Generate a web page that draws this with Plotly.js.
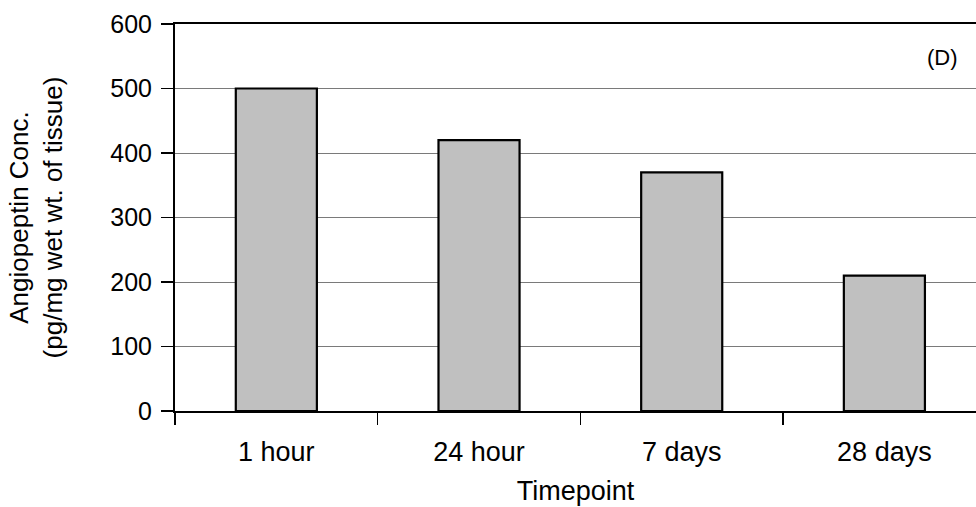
<!DOCTYPE html>
<html>
<head>
<meta charset="utf-8">
<script src="https://cdn.plot.ly/plotly-3.0.1.min.js"></script>
<style>
  html, body { margin: 0; padding: 0; background: #ffffff; }
  #chart { width: 976px; height: 507px; }
</style>
</head>
<body>
<div id="chart"></div>
<script>
// Angiopeptin tissue concentration by timepoint
const timepoints = ['1 hour', '24 hour', '7 days', '28 days'];
const concentration = [500, 420, 370, 210];
const yTickValues = [0, 100, 200, 300, 400, 500, 600];

const FONT = 'Liberation Sans, Arial, Helvetica, sans-serif';

const trace = {
  type: 'bar',
  x: timepoints,
  y: concentration,
  marker: {
    color: '#c0c0c0',
    line: { color: '#000000', width: 2.2 }
  },
  hoverinfo: 'x+y'
};

const layout = {
  width: 976,
  height: 507,
  margin: { l: 175, r: 0, t: 24, b: 96 },
  paper_bgcolor: '#ffffff',
  plot_bgcolor: '#ffffff',
  showlegend: false,
  bargap: 0.6,
  font: { family: FONT, size: 25, color: '#000000' },
  xaxis: {
    type: 'category',
    range: [-0.5, 3.452],
    showgrid: false,
    zeroline: false,
    showline: true,
    mirror: true,
    linecolor: '#000000',
    linewidth: 2,
    ticks: 'outside',
    tickson: 'boundaries',
    ticklen: 12,
    tickwidth: 1.5,
    tickcolor: '#000000',
    ticklabelstandoff: 16,
    tickfont: { family: FONT, size: 27, color: '#000000' },
    title: {
      text: 'Timepoint',
      font: { family: FONT, size: 27, color: '#000000' },
      standoff: 15
    }
  },
  yaxis: {
    range: [0, 600],
    tickvals: yTickValues,
    ticktext: yTickValues.map(String),
    showgrid: true,
    gridcolor: '#7a7a7a',
    gridwidth: 1,
    zeroline: false,
    showline: true,
    linecolor: '#000000',
    linewidth: 2,
    ticks: 'outside',
    ticklen: 12,
    tickwidth: 1.5,
    tickcolor: '#000000',
    ticklabelstandoff: 4,
    tickfont: { family: FONT, size: 25, color: '#000000' },
    title: {
      text: 'Angiopeptin Conc.<br>(pg/mg wet wt. of tissue)',
      font: { family: FONT, size: 26, color: '#000000' },
      standoff: 40
    }
  },
  annotations: [{
    text: '(D)',
    xref: 'paper',
    yref: 'paper',
    x: 0.958,
    y: 0.914,
    xanchor: 'center',
    yanchor: 'middle',
    showarrow: false,
    font: { family: FONT, size: 22, color: '#000000' }
  }]
};

Plotly.newPlot('chart', [trace], layout, { displayModeBar: false, staticPlot: true });
</script>
</body>
</html>
